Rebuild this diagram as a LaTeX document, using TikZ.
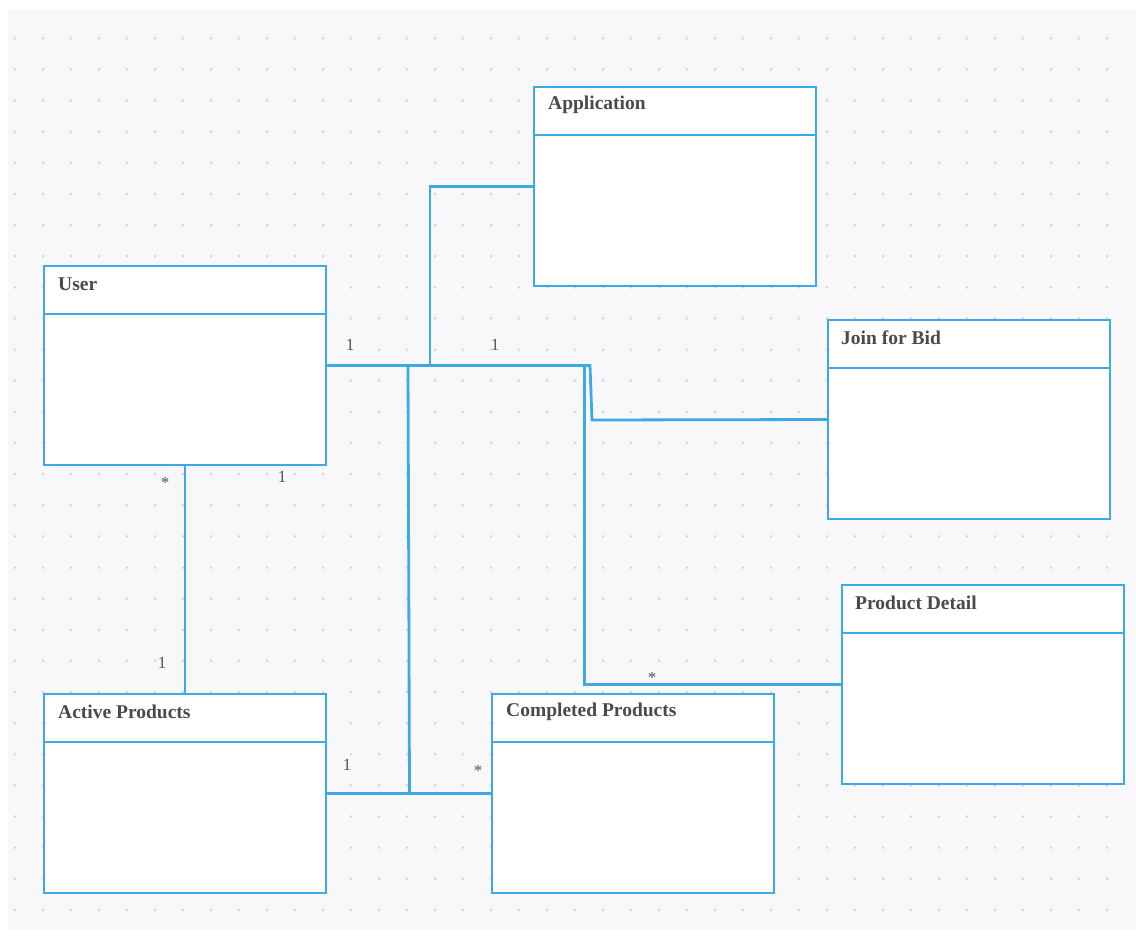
\documentclass[tikz,border=0pt]{standalone}
\usepackage{fontspec}
\setmainfont{Liberation Serif}
\definecolor{bline}{HTML}{3DA9E5}
\definecolor{bggray}{HTML}{F8F8FA}
\definecolor{dotgray}{HTML}{D6D6DA}
\definecolor{txtgray}{HTML}{4A4A4A}
\definecolor{lblgray}{HTML}{555555}
\tikzset{
  umlbox/.style={draw=bline, line width=2.8pt, fill=white, rectangle, anchor=north west,
    minimum width=282pt, minimum height=199pt, inner sep=0pt, outer sep=0pt},
  umltitle/.style={anchor=west, inner sep=0pt, text=txtgray, font=\fontsize{19.5}{22}\selectfont\bfseries},
  divider/.style={draw=bline, line width=2.8pt},
  conn/.style={draw=bline, line width=2.8pt},
  mult/.style={inner sep=0pt, text=lblgray, font=\fontsize{17}{19}\selectfont}
}
\begin{document}
\begin{tikzpicture}[x=1pt,y=-1pt]
\useasboundingbox (0,0) rectangle (1136,937);
\fill[white] (0,0) rectangle (1136,937);
\fill[bggray] (8,9) rectangle (1136,930);
\foreach \i in {0,...,39}{
  \foreach \j in {0,...,28}{
    \fill[dotgray] ({15+28*\i},{38.3+31.13*\j}) circle (1.5pt);
  }
}
% boxes
\node[umlbox] (user) at (44,266) {};
\node[umlbox] (app) at (534,87) {};
\node[umlbox] (jfb) at (828,320) {};
\node[umlbox] (pd) at (842,585) {};
\node[umlbox] (ap) at (44,694) {};
\node[umlbox] (cp) at (492,694) {};

\coordinate (appturn) at (430,186.5);
\coordinate (jturnA) at (590,365.5);
\coordinate (jturnB) at (592,420);
\coordinate (pdturn) at (584.5,684.5);
\coordinate (cptop) at (408,365.5);
\coordinate (cpbot) at (409.5,793.5);

% connectors
\draw[conn] (app.west) -- (appturn) -- (appturn |- user.east);
\draw[conn] (user.east) -- (jturnA) -- (jturnB) -- (jfb.west);
\draw[conn] (user.east) -| (pdturn) -- (pd.west);
\draw[conn] (cptop) -- (cpbot);
\draw[conn] (ap.east) -- (cp.west);
\draw[conn] (user.south) -- (ap.north);

% dividers
\foreach \b in {user,app,jfb,pd,ap,cp}{
  \draw[divider] ([yshift=-48pt]\b.north west) -- ([yshift=-48pt]\b.north east);
}

% titles
\node[umltitle] (userT) at ([xshift=14pt,yshift=-18pt]user.north west) {User};
\node[umltitle] (appT) at ([xshift=14pt,yshift=-18pt]app.north west) {Application};
\node[umltitle] (jfbT) at ([xshift=13pt,yshift=-18pt]jfb.north west) {Join for Bid};
\node[umltitle] (pdT) at ([xshift=13pt,yshift=-18pt]pd.north west) {Product Detail};
\node[umltitle] (apT) at ([xshift=14pt,yshift=-18pt]ap.north west) {Active Products};
\node[umltitle] (cpT) at ([xshift=14pt,yshift=-18pt]cp.north west) {Completed Products};

% multiplicities
\node[mult] (m1) at (350,345) {1};
\node[mult] (m2) at (495,345) {1};
\node[mult] (m3) at (165,483) {*};
\node[mult] (m4) at (282,477) {1};
\node[mult] (m5) at (162,663) {1};
\node[mult] (m6) at (347,765) {1};
\node[mult] (m7) at (478,771) {*};
\node[mult] (m8) at (652,678) {*};
\end{tikzpicture}
\end{document}
